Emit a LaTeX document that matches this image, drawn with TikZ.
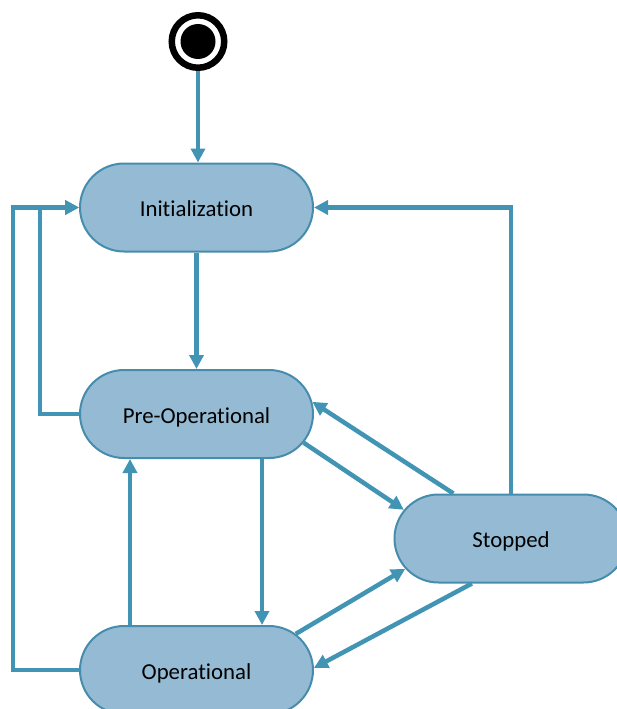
\documentclass[tikz,border=0pt]{standalone}
\usepackage{fontspec}
\setmainfont[Ligatures=NoCommon]{Carlito}
\usetikzlibrary{shapes.misc,arrows.meta,calc}
\definecolor{statefill}{RGB}{148,187,211}
\definecolor{stateedge}{RGB}{70,140,172}
\definecolor{flow}{RGB}{66,148,180}
\begin{document}
\begin{tikzpicture}[x=1pt,y=-1pt,
  state/.style={rounded rectangle, draw=stateedge, fill=statefill, line width=2pt,
    minimum width=233pt, minimum height=88pt, inner sep=0pt,
    text height=18pt, text depth=0pt,
    font=\fontsize{22.8}{27}\selectfont},
  flowline/.style={draw=flow, line width=4.5pt, -{Triangle[length=14pt,width=14pt]}}]
\clip (0,0) rectangle (617,709);

% initial pseudo-state
\node[circle, draw=black, line width=6.5pt, fill=white, minimum size=52.5pt, inner sep=0pt] (start) at (198,41.5) {};
\fill[black] (start.center) circle (17.5pt);

% states
\node[state] (init)    at (196.5,207.5) {Initialization};
\node[state] (pre)     at (196.5,414)   {Pre-Operational};
\node[state] (stopped) at (511,538.5)   {Stopped};
\node[state] (op)      at (196.5,670)   {Operational};

% transitions
\draw[flowline] (start.south) -- (start.south |- init.north);
\draw[flowline] (init.south) -- (pre.north);
\draw[flowline] (pre.west) -- ++(-39,0) |- (init.west);
\draw[flowline] (op.west) -- ++(-66,0) |- (init.west);
\draw[flowline] (stopped.north) |- (init.east);
\draw[flowline] ($(pre.south)+(65.5,0)$) -- ($(op.north)+(65.5,0)$);
\draw[flowline] ($(op.north)+(-66.5,0)$) -- ($(pre.south)+(-66.5,0)$);
\draw[flowline] (pre.-15) -- (stopped.165);
\draw[flowline] (stopped.142) -- (pre.6);
\draw[flowline] (op.20) -- (stopped.196);
\draw[flowline] (stopped.229) -- (op.1);
\end{tikzpicture}
\end{document}
